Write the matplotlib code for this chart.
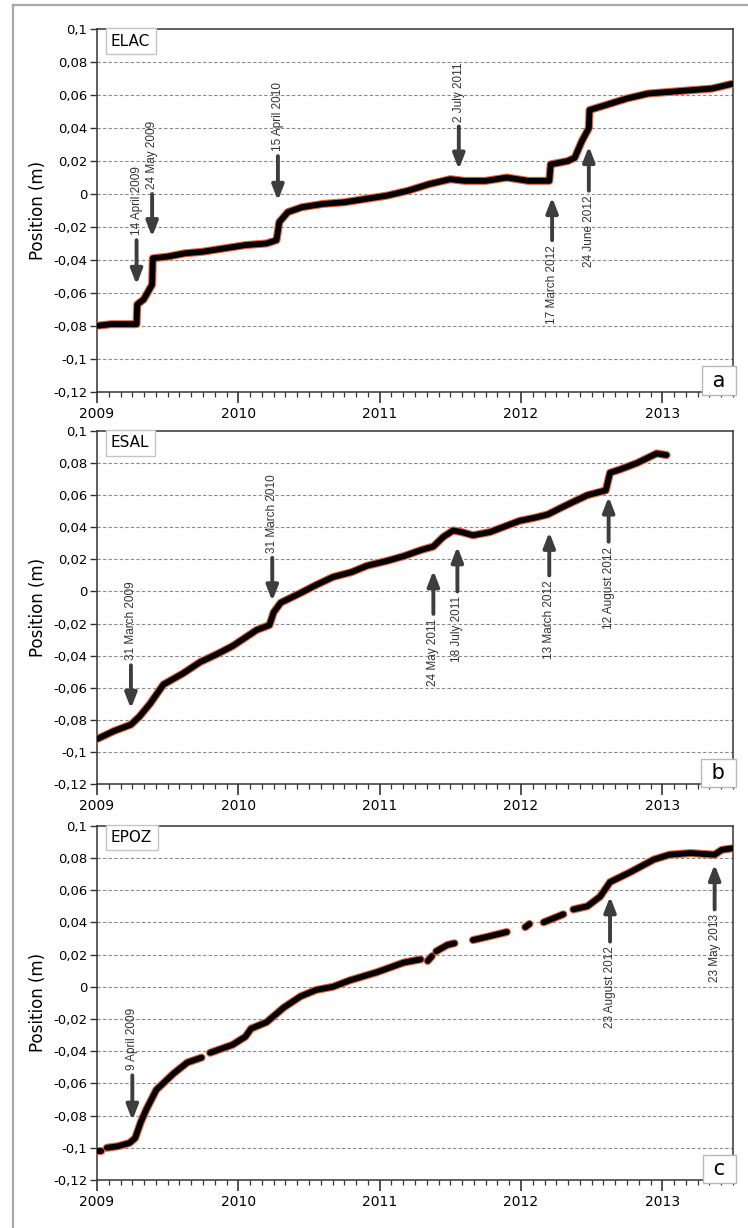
import matplotlib
matplotlib.use('Agg')
import matplotlib.pyplot as plt
import matplotlib.patheffects as pe
from matplotlib.lines import Line2D
from matplotlib.ticker import MultipleLocator, FuncFormatter
import numpy as np

nan = np.nan

# ELAC (panel a)
years_a = [2009.00, 2009.10, 2009.20, 2009.28, 2009.285, 2009.33, 2009.39, 2009.395, 2009.50,
           2009.62, 2009.75, 2009.90, 2010.05, 2010.20, 2010.27, 2010.29, 2010.35, 2010.45,
           2010.60, 2010.75, 2010.90, 2011.05, 2011.20, 2011.35, 2011.50, 2011.60, 2011.75,
           2011.90, 2012.05, 2012.20, 2012.21, 2012.33, 2012.38, 2012.43, 2012.48, 2012.485,
           2012.60, 2012.75, 2012.90, 2013.05, 2013.20, 2013.35, 2013.50]
elac = [-0.080, -0.079, -0.079, -0.079, -0.067, -0.064, -0.055, -0.039, -0.038,
        -0.036, -0.035, -0.033, -0.031, -0.030, -0.028, -0.017, -0.011, -0.008,
        -0.006, -0.005, -0.003, -0.001, 0.002, 0.006, 0.009, 0.008, 0.008,
        0.010, 0.008, 0.008, 0.018, 0.020, 0.022, 0.032, 0.040, 0.051,
        0.054, 0.058, 0.061, 0.062, 0.063, 0.064, 0.067]

# ESAL (panel b)
years_b = [2009.00, 2009.12, 2009.24, 2009.30, 2009.375, 2009.47, 2009.61, 2009.73, 2009.85,
           2009.96, 2010.13, 2010.22, 2010.25, 2010.30, 2010.44, 2010.55, 2010.67, 2010.80,
           2010.91, 2011.05, 2011.17, 2011.30, 2011.38, 2011.45, 2011.52, 2011.58, 2011.66,
           2011.78, 2011.87, 2011.99, 2012.10, 2012.19, 2012.28, 2012.35, 2012.47, 2012.60,
           2012.63, 2012.70, 2012.82, 2012.96, 2013.03]
esal = [-0.092, -0.087, -0.083, -0.078, -0.070, -0.058, -0.051, -0.044, -0.039,
        -0.034, -0.024, -0.021, -0.013, -0.007, -0.001, 0.004, 0.009, 0.012,
        0.016, 0.019, 0.022, 0.026, 0.028, 0.034, 0.038, 0.037, 0.035,
        0.037, 0.040, 0.044, 0.046, 0.048, 0.052, 0.055, 0.060, 0.063,
        0.074, 0.076, 0.080, 0.086, 0.085]

# EPOZ (panel c), nan = data gap
years_c = [2009.00, 2009.03, 2009.05, 2009.07, 2009.15, 2009.23, 2009.27, 2009.31, 2009.35,
           2009.42, 2009.54, 2009.64, 2009.74, 2009.77, 2009.80, 2009.96, 2010.05, 2010.09,
           2010.20, 2010.32, 2010.44, 2010.55, 2010.67, 2010.79, 2010.98, 2011.17, 2011.29,
           2011.31, 2011.34, 2011.37, 2011.38, 2011.40, 2011.48, 2011.53, 2011.60, 2011.66,
           2011.76, 2011.90, 2011.97, 2012.03, 2012.06, 2012.11, 2012.16, 2012.30, 2012.34,
           2012.37, 2012.47, 2012.56, 2012.63, 2012.77, 2012.94, 2013.05, 2013.20, 2013.37,
           2013.42, 2013.50]
epoz = [-0.102, -0.102, nan, -0.100, -0.099, -0.097, -0.094, -0.084, -0.076,
        -0.064, -0.054, -0.047, -0.044, nan, -0.041, -0.036, -0.031, -0.026,
        -0.022, -0.013, -0.006, -0.002, 0.000, 0.004, 0.009, 0.015, 0.017,
        nan, 0.016, 0.019, nan, 0.022, 0.026, 0.027, nan, 0.029,
        0.031, 0.034, nan, 0.037, 0.039, nan, 0.040, 0.045, nan,
        0.048, 0.050, 0.056, 0.065, 0.071, 0.079, 0.082, 0.083, 0.082,
        0.085, 0.086]

stations = ['ELAC', 'ESAL', 'EPOZ']
letters = ['a', 'b', 'c']

# events: (year, label, tail y, tip y)
events_a = [(2009.28, '14 April 2009', -0.028, -0.055),
            (2009.39, '24 May 2009', 0.000, -0.026),
            (2010.28, '15 April 2010', 0.023, -0.004),
            (2011.56, '2 July 2011', 0.041, 0.015),
            (2012.22, '17 March 2012', -0.028, -0.002),
            (2012.48, '24 June 2012', 0.002, 0.029)]
events_b = [(2009.24, '31 March 2009', -0.046, -0.073),
            (2010.24, '31 March 2010', 0.021, -0.006),
            (2011.38, '24 May 2011', -0.014, 0.013),
            (2011.55, '18 July 2011', 0.000, 0.028),
            (2012.20, '13 March 2012', 0.010, 0.037),
            (2012.62, '12 August 2012', 0.031, 0.059)]
events_c = [(2009.25, '9 April 2009', -0.055, -0.083),
            (2012.63, '23 August 2012', 0.028, 0.056),
            (2013.37, '23 May 2013', 0.048, 0.076)]

W, H = 748, 1228
fig = plt.figure(figsize=(W / 100, H / 100), dpi=100)

# outer frame (top and left edges only are visible)
fig.add_artist(Line2D([13 / W, 1], [1 - 5 / H, 1 - 5 / H], color='#a8a8a8', lw=1.6))
fig.add_artist(Line2D([13 / W, 13 / W], [0, 1 - 5 / H], color='#a8a8a8', lw=1.6))

panels = [(29.3, 391.7), (431, 784), (825.7, 1180)]
left, right = 97, 733
series = [(years_a, elac, events_a), (years_b, esal, events_b), (years_c, epoz, events_c)]

comma = FuncFormatter(lambda v, p: ('%g' % round(v, 3)).replace('.', ','))

for (top, bot), (yrs, vals, events), name, letter in zip(panels, series, stations, letters):
    ax = fig.add_axes([left / W, 1 - bot / H, (right - left) / W, (bot - top) / H])
    ax.set_xlim(2009, 2013.5)
    ax.set_ylim(-0.12, 0.1)

    ax.plot(yrs, vals, color='black', lw=4.2, solid_capstyle='round', solid_joinstyle='round',
            path_effects=[pe.Stroke(linewidth=5.8, foreground='#e2643c'), pe.Normal()], zorder=3)

    for y in np.arange(-0.1, 0.09, 0.02):
        ax.axhline(y, color='#8a8a8a', lw=0.8, ls=(0, (3, 2)), zorder=1)

    ax.yaxis.set_major_locator(MultipleLocator(0.02))
    ax.yaxis.set_major_formatter(comma)
    ax.xaxis.set_major_locator(MultipleLocator(1))
    ax.xaxis.set_minor_locator(MultipleLocator(1 / 12))
    ax.xaxis.set_major_formatter(FuncFormatter(lambda v, p: '%d' % v))
    ax.tick_params(axis='y', labelsize=9.5, length=5, width=1, color='#333333', pad=2)
    ax.tick_params(axis='x', which='major', labelsize=10, length=8, width=1.2, color='#333333', pad=3)
    ax.tick_params(axis='x', which='minor', length=3.5, width=0.9, color='#333333')
    for s in ax.spines.values():
        s.set_color('#333333')
        s.set_linewidth(1.1)
    ax.set_ylabel('Position (m)', fontsize=12, labelpad=4)

    ax.text(0.022, 0.988, name, transform=ax.transAxes, ha='left', va='top', fontsize=11,
            bbox=dict(boxstyle='square,pad=0.35', fc='white', ec='#c4c4c4', lw=1))
    ax.text(0.998, 0.003, ' ' + letter + ' ', transform=ax.transAxes, ha='right', va='bottom',
            fontsize=15, bbox=dict(boxstyle='square,pad=0.2', fc='white', ec='#b8b8b8', lw=1), zorder=5)

    for x, label, tail, tip in events:
        ax.annotate('', xy=(x, tip), xytext=(x, tail),
                    arrowprops=dict(arrowstyle='-|>,head_width=0.35,head_length=0.9', lw=2.8,
                                    color='#3d3d3d', shrinkA=0, shrinkB=0), zorder=4)
        if tip < tail:
            ax.text(x, tail + 0.003, label, rotation=90, ha='center', va='bottom',
                    fontsize=8.5, color='#333333', family='Liberation Sans')
        else:
            ax.text(x, tail - 0.003, label, rotation=90, ha='center', va='top',
                    fontsize=8.5, color='#333333', family='Liberation Sans')

fig.savefig('out.png', dpi=100, facecolor='white')
